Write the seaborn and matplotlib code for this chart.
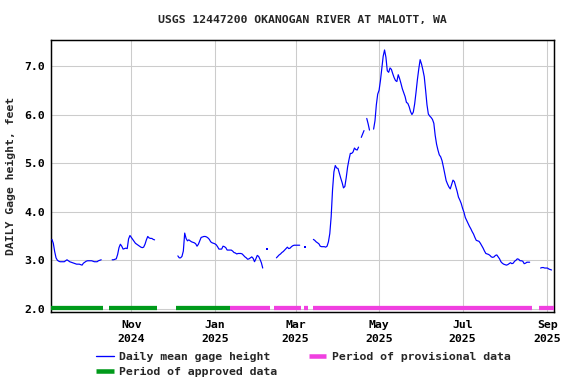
import numpy as np
import pandas as pd
import matplotlib
matplotlib.use("Agg")
import matplotlib.pyplot as plt
import seaborn as sns
from matplotlib.lines import Line2D

title = "USGS 12447200 OKANOGAN RIVER AT MALOTT, WA"
ylabel = "DAILY Gage height, feet"

# daily mean gage height, segments of consecutive days (start date + values)
seg_starts = ["2024-09-04", "2024-10-18", "2024-12-05", "2025-02-15",
              "2025-03-14", "2025-04-18", "2025-04-22", "2025-04-27", "2025-08-27"]

seg1 = [3.43, 3.35, 3.18, 3.05, 3.00, 2.98, 2.97, 2.97, 2.97, 2.97, 2.99, 3.01, 2.99,
        2.97, 2.96, 2.95, 2.94, 2.93, 2.92, 2.92, 2.92, 2.91, 2.90, 2.94, 2.96, 2.98,
        2.99, 2.99, 2.99, 2.99, 2.98, 2.97, 2.97, 2.97, 2.99, 3.00, 3.01]
seg2 = [3.01, 3.01, 3.02, 3.03, 3.12, 3.26, 3.33, 3.29, 3.23, 3.24, 3.25, 3.24, 3.44,
        3.51, 3.47, 3.43, 3.39, 3.35, 3.33, 3.31, 3.29, 3.27, 3.26, 3.27, 3.33, 3.42,
        3.49, 3.46, 3.45, 3.45, 3.43, 3.42]
seg3 = [3.09, 3.05, 3.05, 3.08, 3.19, 3.56, 3.45, 3.40, 3.42, 3.40, 3.38, 3.37, 3.36,
        3.34, 3.29, 3.33, 3.40, 3.47, 3.48, 3.49, 3.49, 3.48, 3.46, 3.43, 3.38, 3.36,
        3.35, 3.34, 3.32, 3.28, 3.23, 3.23, 3.23, 3.29, 3.28, 3.26, 3.21, 3.21, 3.21,
        3.21, 3.19, 3.16, 3.15, 3.13, 3.14, 3.14, 3.14, 3.13, 3.10, 3.07, 3.05, 3.02,
        3.03, 3.05, 3.07, 3.04, 2.97, 3.03, 3.10, 3.08, 3.02, 2.95, 2.84]
seg4 = [3.05, 3.08, 3.11, 3.13, 3.16, 3.18, 3.21, 3.24, 3.27, 3.24, 3.25, 3.28, 3.30,
        3.31, 3.31, 3.31, 3.31, 3.31]
seg5 = [3.43, 3.41, 3.38, 3.36, 3.34, 3.29, 3.28, 3.28, 3.28, 3.27, 3.29, 3.38, 3.55,
        3.90, 4.45, 4.82, 4.95, 4.90, 4.89, 4.79, 4.69, 4.60, 4.49, 4.52, 4.70, 4.92,
        5.07, 5.20, 5.20, 5.23, 5.31, 5.28, 5.27, 5.33]
seg6 = [5.53, 5.60, 5.67]
seg7 = [5.92, 5.81, 5.68]
seg8 = [5.70, 5.87, 6.20, 6.42, 6.50, 6.70, 6.95, 7.20, 7.33, 7.18, 6.90, 6.87, 6.96,
        6.93, 6.84, 6.76, 6.70, 6.68, 6.82, 6.74, 6.64, 6.53, 6.45, 6.37, 6.25, 6.23,
        6.16, 6.06, 6.00, 6.05, 6.22, 6.46, 6.72, 6.94, 7.13, 7.04, 6.92, 6.78, 6.50,
        6.20, 6.01, 5.97, 5.94, 5.90, 5.82, 5.57, 5.39, 5.27, 5.17, 5.13, 5.05, 4.92,
        4.78, 4.64, 4.57, 4.51, 4.47, 4.56, 4.65, 4.62, 4.52, 4.42, 4.30, 4.24, 4.17,
        4.07, 3.99, 3.88, 3.82, 3.76, 3.70, 3.65, 3.59, 3.54, 3.47, 3.41, 3.40, 3.39,
        3.35, 3.30, 3.25, 3.19, 3.14, 3.13, 3.12, 3.10, 3.07, 3.06, 3.07, 3.10, 3.11,
        3.07, 3.03, 2.97, 2.94, 2.92, 2.91, 2.90, 2.91, 2.93, 2.95, 2.93, 2.94, 2.98,
        3.00, 3.03, 3.02, 2.99, 2.99, 2.98, 2.93, 2.94, 2.96, 2.96, 2.96]
seg9 = [2.84, 2.85, 2.85, 2.84, 2.84, 2.84, 2.82, 2.81, 2.80]
segments = [seg1, seg2, seg3, seg4, seg5, seg6, seg7, seg8, seg9]

isolated_dates = ["2025-02-08", "2025-03-08"]
isolated_values = [3.23, 3.28]

# data-status periods
approved_start = ["2024-09-02", "2024-10-16", "2024-12-04"]
approved_end = ["2024-10-11", "2024-11-20", "2025-01-12"]
provisional_start = ["2025-01-12", "2025-02-13", "2025-03-07", "2025-03-14", "2025-08-26"]
provisional_end = ["2025-02-10", "2025-03-05", "2025-03-10", "2025-08-21", "2025-09-07"]
period_level = 2.01

tick_dates = ["2024-11-01", "2025-01-01", "2025-03-01", "2025-05-01", "2025-07-01", "2025-09-01"]
tick_labels = ["Nov\n2024", "Jan\n2025", "Mar\n2025", "May\n2025", "Jul\n2025", "Sep\n2025"]
ytick_values = [2.0, 3.0, 4.0, 5.0, 6.0, 7.0]
ytick_labels = ["2.0", "3.0", "4.0", "5.0", "6.0", "7.0"]

legend_labels = ["Daily mean gage height", "Period of approved data", "Period of provisional data"]

LINE_C = "#0000ff"
APPR_C = "#009a1a"
PROV_C = "#f040e0"
GRID_C = "#cccccc"

sns.set_theme(style="white")
plt.rcParams["font.family"] = ["DejaVu Sans Mono", "DejaVu Sans"]
plt.rcParams["font.weight"] = "bold"
FS = 8.6

rows = []
for i, (s, vals) in enumerate(zip(seg_starts, segments)):
    dates = pd.date_range(s, periods=len(vals), freq="D")
    for d, v in zip(dates, vals):
        rows.append((d, v, i))
df = pd.DataFrame(rows, columns=["date", "value", "seg"])
iso = pd.DataFrame({"date": pd.to_datetime(isolated_dates), "value": isolated_values})

W, H = 576, 384
fig = plt.figure(figsize=(W / 96, H / 96), dpi=96)
left, right, top, bottom = 51.3, 554.0, 40.0, 312.0
ax = fig.add_axes([left / W, 1 - bottom / H, (right - left) / W, (bottom - top) / H])

ax.set_axisbelow(True)
ax.grid(True, color=GRID_C, lw=0.8)

ax.hlines([period_level] * len(approved_start), pd.to_datetime(approved_start),
          pd.to_datetime(approved_end), color=APPR_C, lw=3.2, capstyle="butt", zorder=3)
ax.hlines([period_level] * len(provisional_start), pd.to_datetime(provisional_start),
          pd.to_datetime(provisional_end), color=PROV_C, lw=3.2, capstyle="butt", zorder=3)

sns.lineplot(data=df, x="date", y="value", units="seg", estimator=None,
             color=LINE_C, lw=0.9, ax=ax, legend=False, zorder=4)
sns.scatterplot(data=iso, x="date", y="value", color=LINE_C, marker="s", s=2,
                linewidth=0, ax=ax, legend=False, zorder=4)

ax.set_xlim(pd.Timestamp("2024-09-03 13:00"), pd.Timestamp("2025-09-05 19:00"))
ax.set_ylim(1.935, 7.535)
ax.set_xticks(pd.to_datetime(tick_dates))
ax.set_xticklabels(tick_labels, linespacing=1.45)
ax.set_yticks(ytick_values)
ax.set_yticklabels(ytick_labels)
ax.tick_params(axis="both", length=0, labelsize=FS, colors="black")
ax.tick_params(axis="x", pad=6)
ax.tick_params(axis="y", pad=5)
for lab in ax.get_xticklabels() + ax.get_yticklabels():
    lab.set_fontweight("bold")
ax.set_xlabel("")
ax.set_ylabel("")
for sp in ax.spines.values():
    sp.set_visible(True)
    sp.set_color("black")
    sp.set_linewidth(1.1)

fig.text((left + right) / 2 / W, 1 - 20 / H, title, ha="center", va="center",
         fontsize=FS, fontweight="bold")
fig.text(11 / W, 1 - (top + bottom) / 2 / H, ylabel, rotation=90, ha="center",
         va="center", fontsize=FS, fontweight="bold")

handles = [Line2D([], [], color=LINE_C, lw=1.0),
           Line2D([], [], color=APPR_C, lw=3.4, solid_capstyle="butt"),
           Line2D([], [], color=PROV_C, lw=3.4, solid_capstyle="butt")]
fig.legend(handles, legend_labels, ncol=2, loc="upper left",
           bbox_to_anchor=(96 / W, 1 - 351.5 / H), frameon=False,
           handlelength=1.55, handletextpad=0.45, columnspacing=2.75,
           labelspacing=0.45, borderpad=0, borderaxespad=0,
           prop={"family": "DejaVu Sans Mono", "weight": "bold", "size": FS})

fig.savefig("out.png", dpi=96)
